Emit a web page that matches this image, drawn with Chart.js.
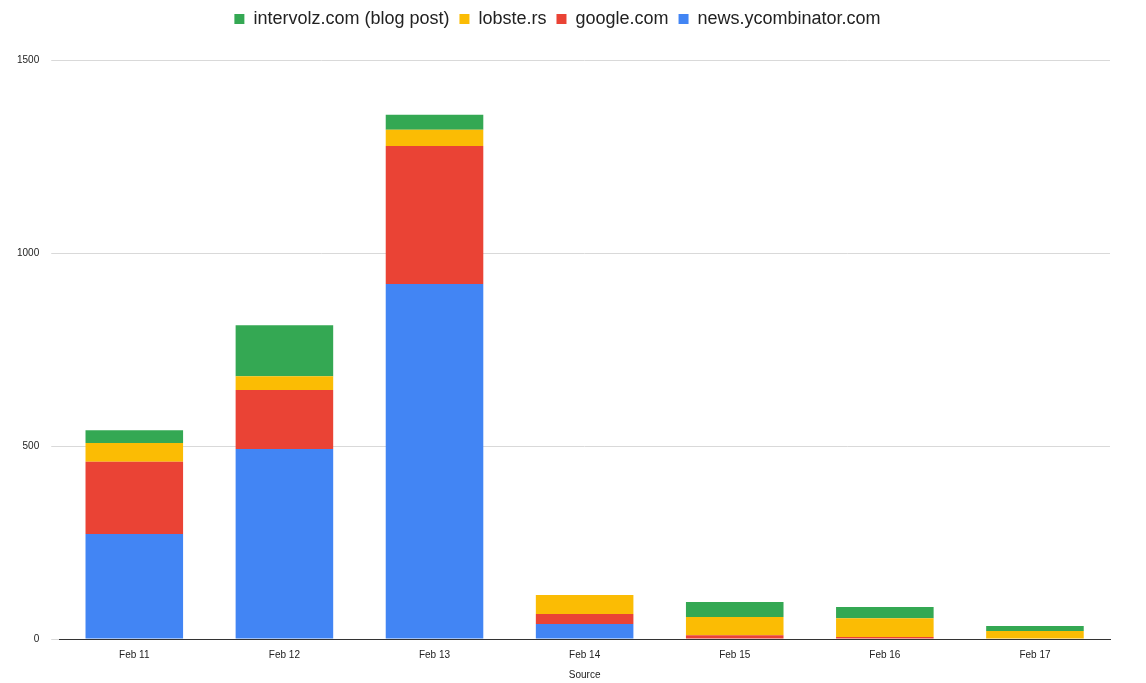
<!DOCTYPE html>
<html><head><meta charset="utf-8">
<script src="https://cdn.jsdelivr.net/npm/chart.js@4"></script>
<style>html,body{margin:0;padding:0;background:#fff}#w{width:1146px;height:683px}</style>
</head><body><div id="w"><canvas id="c"></canvas></div>
<script>
const categories=["Feb 11","Feb 12","Feb 13","Feb 14","Feb 15","Feb 16","Feb 17"];
const hn=[272,492,920,39,0,0,0];
const google=[187,153,357,26,10,5,1];
const lobsters=[49,36,42,49,47,49,20];
const intervolz=[33,132,39,0,39,29,13];
const yTicks=[0,500,1000,1500];
new Chart(document.getElementById('c'),{
type:'bar',
data:{labels:categories,datasets:[
{label:'news.ycombinator.com',data:hn,backgroundColor:'#4285f4'},
{label:'google.com',data:google,backgroundColor:'#ea4335'},
{label:'lobste.rs',data:lobsters,backgroundColor:'#fbbc04'},
{label:'intervolz.com (blog post)',data:intervolz,backgroundColor:'#34a853'}]},
options:{responsive:true,maintainAspectRatio:false,animation:false,
datasets:{bar:{categoryPercentage:1,barPercentage:0.65}},
layout:{padding:{left:5,right:36,top:0,bottom:0}},
plugins:{legend:{reverse:true,labels:{usePointStyle:true,pointStyle:'rect',boxWidth:10,boxHeight:10,font:{family:'Arial, Liberation Sans',size:18},color:'#222',padding:10},
  afterFit(){}},tooltip:{enabled:false}},
scales:{
x:{stacked:true,grid:{display:false},border:{color:'#333'},ticks:{font:{family:'Arial, Liberation Sans',size:10},color:'#222',padding:2},title:{display:true,text:'Source',font:{family:'Arial, Liberation Sans',size:10},color:'#222',padding:{top:6,bottom:2}}},
y:{stacked:true,min:0,max:1500,afterBuildTicks:a=>{a.ticks=yTicks.map(v=>({value:v}))},grid:{color:'#d9d9d9'},border:{display:false},ticks:{callback:v=>String(v),font:{family:'Arial, Liberation Sans',size:10},color:'#222',padding:12}}
}}},
);
</script>
<script>
// increase gap below legend
Chart.instances && Object.values(Chart.instances).forEach(ch=>{
  const lg=ch.legend; const orig=lg.fit.bind(lg);
  lg.fit=function(){orig();this.height+=22;};
  ch.update();
});
</script></body></html>
